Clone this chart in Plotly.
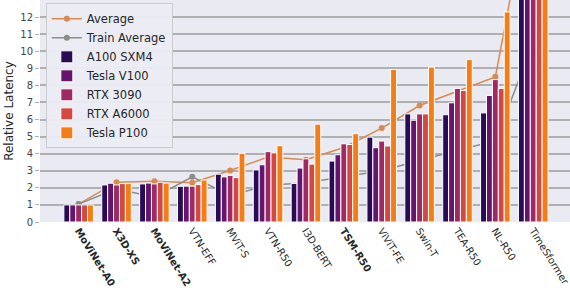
import plotly.graph_objects as go

categories = ["MoViNet-A0", "X3D-XS", "MoViNet-A2", "VTN-EFF", "MViT-S", "VTN-R50",
              "I3D-BERT", "TSM-R50", "ViViT-FE", "Swin-T", "TEA-R50", "NL-R50", "TimeSformer"]
bold = {"MoViNet-A0", "X3D-XS", "MoViNet-A2", "TSM-R50"}
tick_labels = [f"<b>{c}</b>" if c in bold else c for c in categories]

gpus = ["A100 SXM4", "Tesla V100", "RTX 3090", "RTX A6000", "Tesla P100"]
a100 = [1.0, 2.17, 2.23, 2.09, 2.80, 3.05, 2.26, 3.57, 4.97, 6.33, 6.28, 6.39, 17.5]
v100 = [1.0, 2.27, 2.28, 2.10, 2.64, 3.35, 3.16, 3.94, 4.35, 5.96, 6.98, 7.41, 19.0]
rtx3090 = [1.0, 2.17, 2.23, 2.10, 2.72, 4.12, 3.70, 4.58, 4.74, 6.33, 7.82, 8.34, 20.5]
a6000 = [1.0, 2.25, 2.33, 2.19, 2.60, 4.05, 3.39, 4.54, 4.45, 6.33, 7.70, 7.82, 19.5]
p100 = [1.0, 2.25, 2.28, 2.46, 4.02, 4.47, 5.73, 5.17, 8.93, 9.07, 9.51, 12.3, 24.5]
series = [a100, v100, rtx3090, a6000, p100]

average = [1.05, 2.33, 2.38, 2.30, 3.02, 3.81, 3.65, 4.36, 5.50, 6.82, 7.66, 8.50, 20.2]
train_average = [1.05, 1.95, 1.45, 2.65, 1.55, 2.15, 2.30, 2.65, 3.00, 3.60, 4.20, 4.75, 10.5]

colors = ["#280b54", "#65156e", "#9f2a63", "#d44842", "#f57d15"]
y_ticks = list(range(0, 13))

fig = go.Figure()
fig.add_trace(go.Scatter(x=categories, y=average, name="Average", mode="lines+markers",
                         line=dict(color="#d98a50", width=1.5),
                         marker=dict(size=6, color="#d98a50"), xaxis="x", yaxis="y"))
fig.add_trace(go.Scatter(x=categories, y=train_average, name="Train Average", mode="lines+markers",
                         line=dict(color="#8c8c8c", width=1.5),
                         marker=dict(size=6, color="#8c8c8c"), xaxis="x", yaxis="y"))
for name, vals, col in zip(gpus, series, colors):
    fig.add_trace(go.Bar(x=categories, y=vals, name=name, marker=dict(color=col,
                         line=dict(color="white", width=1)), xaxis="x2", yaxis="y2"))

xr = [-1.02, 12.97]
yr = [0, 13]
fig.update_layout(
    width=570, height=292,
    margin=dict(l=40, r=0, t=0, b=70, autoexpand=False),
    paper_bgcolor="white", plot_bgcolor="#eaeaf2",
    font=dict(family="DejaVu Sans", color="#262626"),
    barmode="group", bargap=0.22, bargroupgap=0,
    showlegend=True,
    legend=dict(x=0.011, y=0.985, xanchor="left", yanchor="top",
                bgcolor="rgba(236,236,243,0.95)", bordercolor="#cccccc", borderwidth=1,
                font=dict(size=11.5, color="#262626"), tracegroupgap=0),
    xaxis=dict(range=xr, type="category", tickvals=categories, ticktext=tick_labels,
               tickangle=58, tickfont=dict(size=10, color="#262626"), showgrid=False,
               zeroline=False, showline=False, ticks="", automargin=False),
    yaxis=dict(range=yr, tickvals=y_ticks, tickfont=dict(size=10, color="#444444"),
               showgrid=True, gridcolor="#b0b0b0", gridwidth=1.5, zeroline=False,
               ticks="outside", ticklen=4, tickcolor="#b0b0b0", tickwidth=1, automargin=False,
               title=dict(text="Relative Latency", font=dict(size=12, color="#262626"), standoff=4)),
    xaxis2=dict(range=xr, type="category", overlaying="x", visible=False),
    yaxis2=dict(range=yr, overlaying="y", visible=False, showgrid=False),
)
fig.write_html("out.html", config={"displayModeBar": False},
               post_script="document.body.style.margin='0px';")
